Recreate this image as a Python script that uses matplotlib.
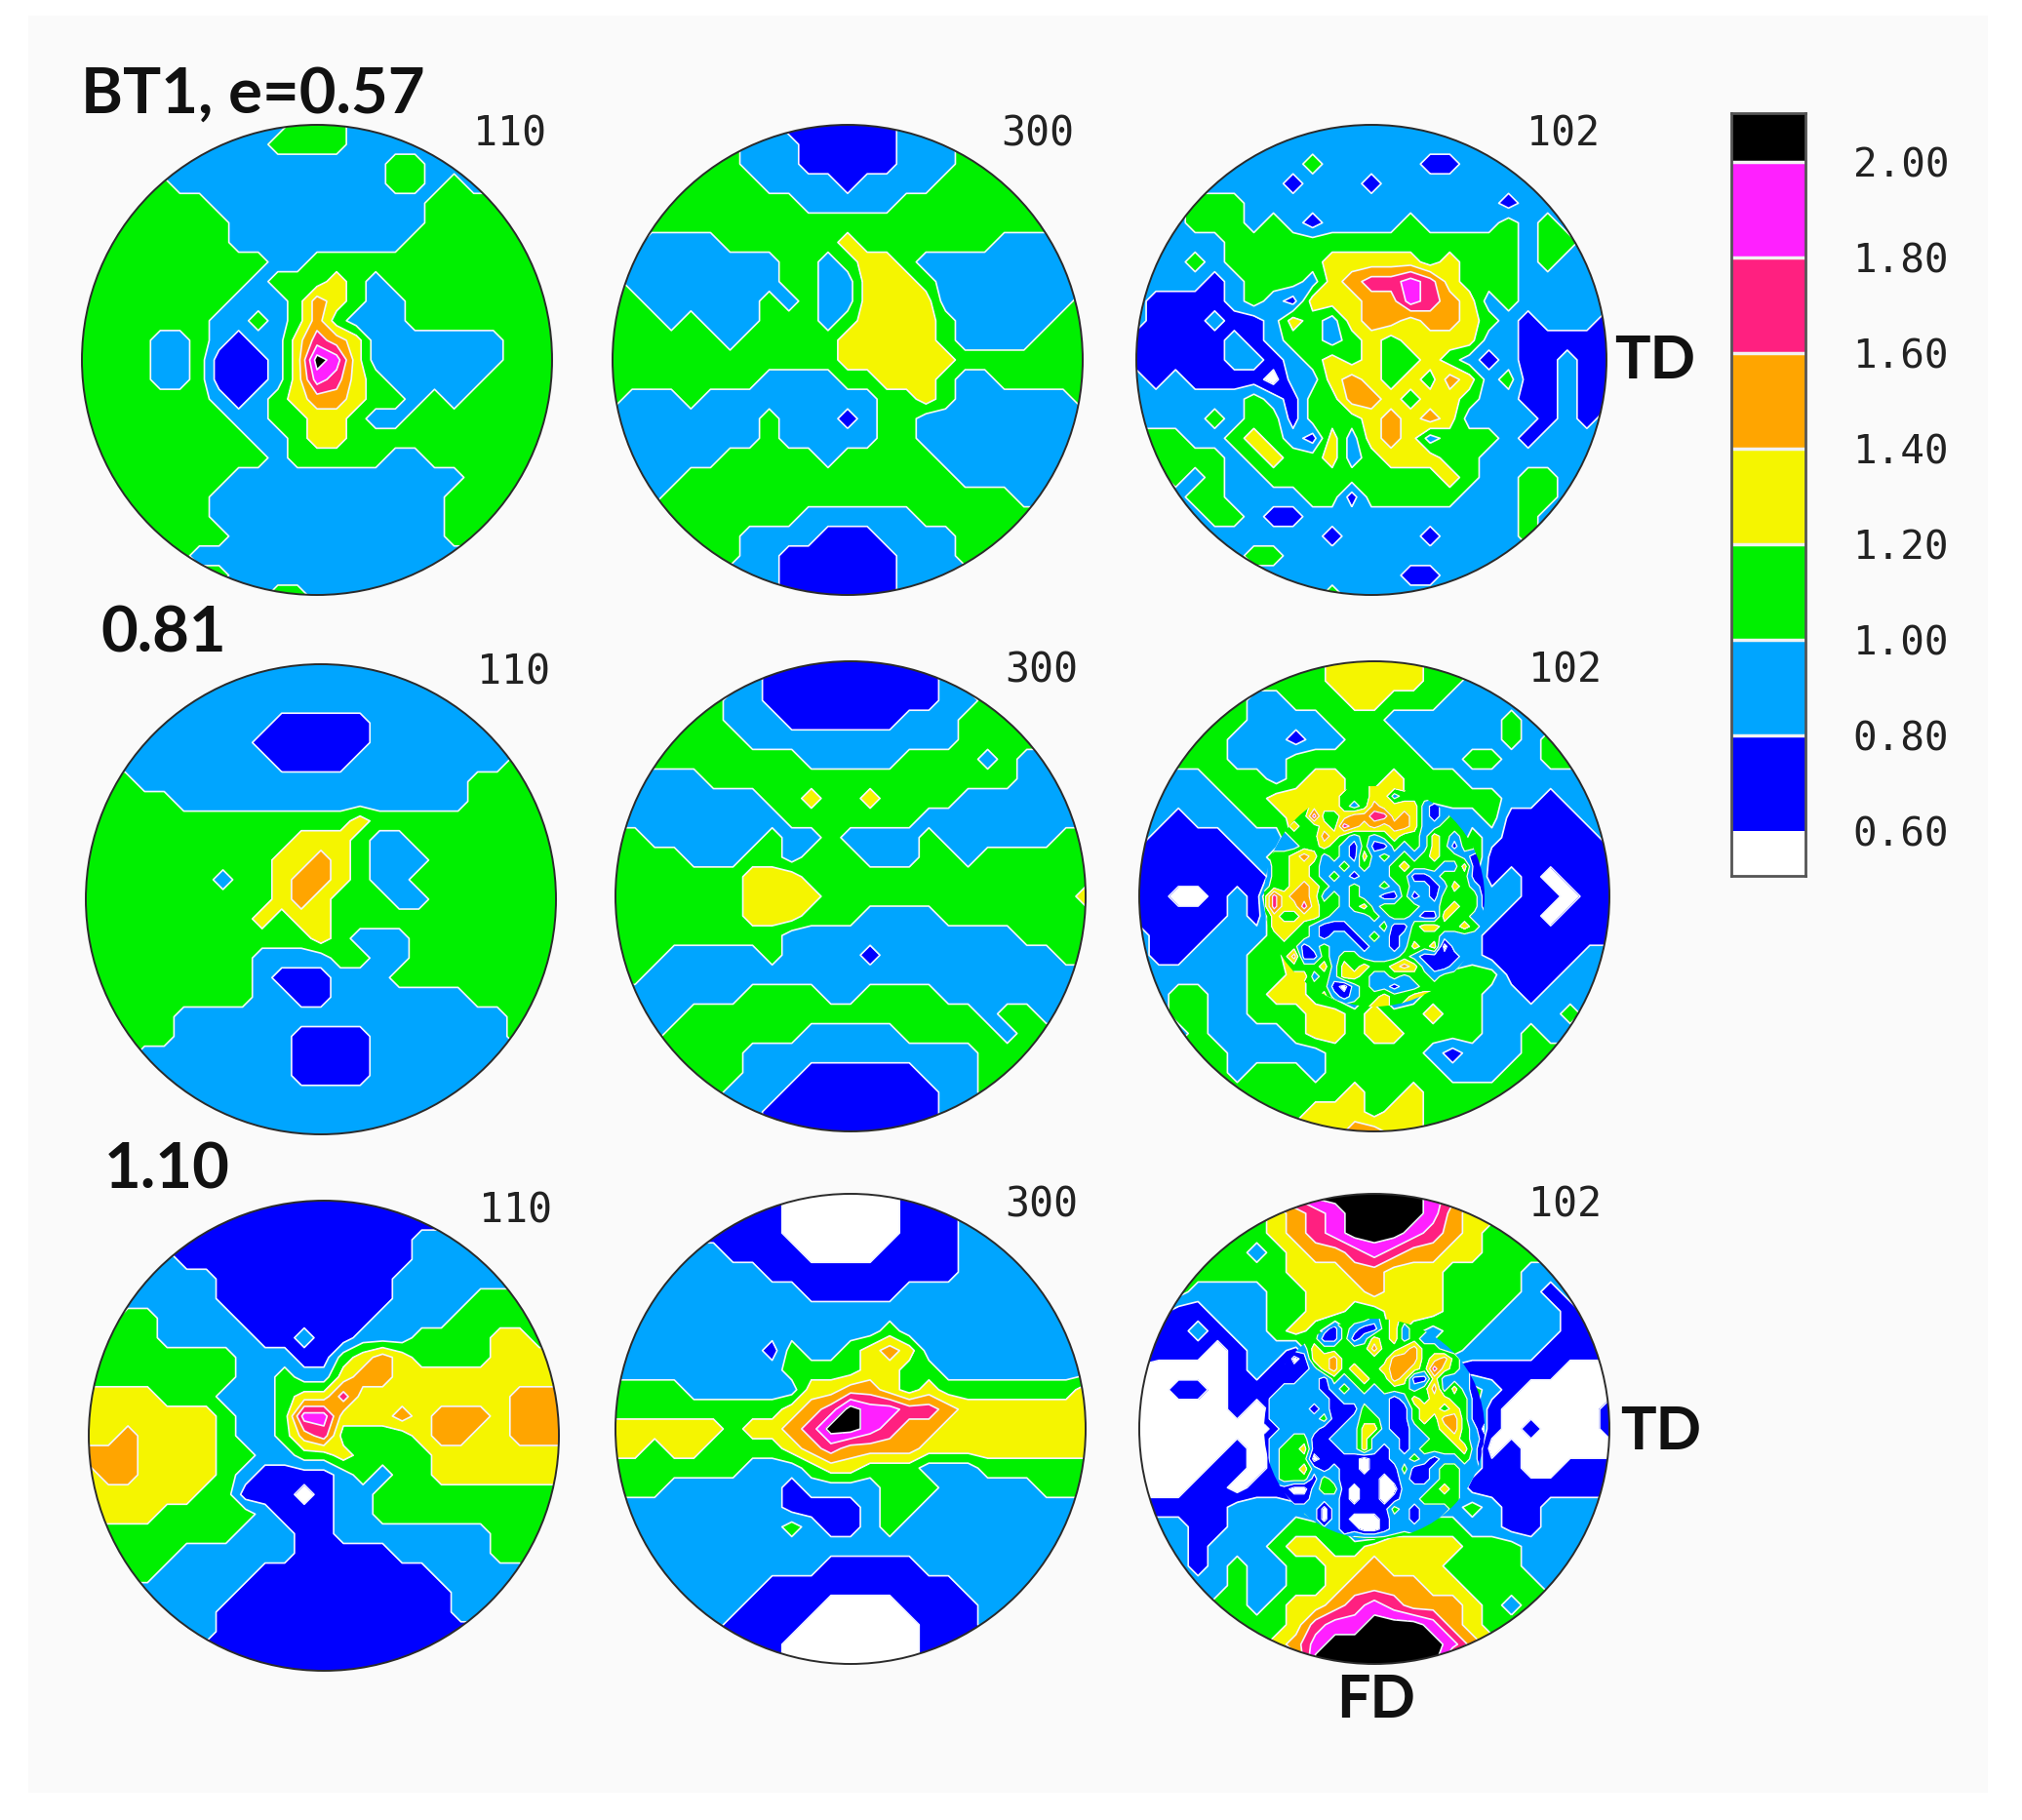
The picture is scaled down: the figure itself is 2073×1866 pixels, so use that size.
import matplotlib
matplotlib.use("Agg")
import matplotlib.pyplot as plt
from matplotlib.patches import Circle, Rectangle
import numpy as np

W, H = 2073, 1866

# pole figure intensities, one digit per grid cell
# digit d means an intensity of 0.5 + 0.2 * d, top row first
pf_110_057 = [
    "2222222222233322222222222", "2222222222333322222222222", "2222222222222222332222222",
    "3333322222222222332322222", "3333333222222222223333333", "3333333322222222223333333",
    "3333333322222222233333333", "3333333333223333333333333", "3333333332333432333333333",
    "3333333322235432233333333", "3333333223235322233333333", "3333223212246542222222333",
    "3333223111248742222222333", "3333223111247643222223333", "3333333212345543323233333",
    "3333333322334432233333333", "3333333332234433333333333", "3333333333233333223333333",
    "3333333322222222222233333", "3333333222222222222333333", "3333333222222222222333333",
    "3333333322222222222333333", "3333332222222222222222222", "3333333322222222222222222",
    "2222222222332222222222222",
]
pf_300_057 = [
    "2222222221111112222222222", "3333333222111112223333333", "3333333222111112223333333",
    "3333333322221222233333333", "3333333333222223333333333", "3333333333333333333333333",
    "3322223333334333333322222", "3222222223323443222222222", "3222222223322444322222222",
    "3322222232322444422222223", "3332322233323444432222233", "3333332333334444432222333",
    "3333333333334444443333333", "3333333322223344432233333", "3222322222222233432222223",
    "2222222232221233222222222", "2222222232222233222222222", "2222223333323333322222222",
    "2222333333333333332222222", "2223333333333333333332222", "3333333333222222333333333",
    "3333333222211122223333333", "3333333221111112223333333", "2222222221111112222222222",
    "2222222221111112222222222",
]
pf_102_057 = [
    "2222222222222222222222222", "2222222222222222222222222", "2222222223222221122222222",
    "2222222212221222222222222", "2223332222222222222122222", "2223332321222232222323222",
    "2222233333333333333323322", "2223233333444443433323222", "2222123332456676433322222",
    "2111123214445576542322222", "2111211243245545543212221", "1111121233234344442211111",
    "1111122123434334321211211", "2121111022454343542311211", "2222223213355434432211211",
    "2222323313334545422221212", "3332234321424542333212222", "2333323433423444332222222",
    "2232322333333333432233222", "2223322223313333322233222", "2222332112222222222232222",
    "2222222222122221222232222", "2222223322222222222222222", "2222222222222211222222222",
    "2222222222322222222222222",
]
pf_110_081 = [
    "2222222222222222222222222", "2222222222222222222222222", "2222222222222222222222222",
    "2222222222111112222222222", "2222222221111112222222222", "2222222222111122222222333",
    "3332222222222222222233333", "3333322222222222222233333", "3333333333333343333333333",
    "3333333333344432233333333", "3333333333445432223333333", "3333333233455432233333333",
    "3333333333454333223333333", "3333333334344333333333333", "3333333333334322233333333",
    "3333333332222332233333333", "3333333332111222333333333", "3333333332211222222233333",
    "3333322222222222222222333", "3333322222211112222222333", "3332222222211112222222222",
    "2222222222211112222222222", "2222222222222222222222222", "2222222222222222222222222",
    "2222222222222222222222222",
]
pf_300_081 = [
    "2222222211111111122222222", "3333333211111111123333333", "3333332211111111122333333",
    "3333332221111112223333333", "3333333222222222223333333", "3333333333222223333232222",
    "2222233333333333333332222", "2222222233433433332222222", "2222222223333333222222222",
    "3322222232232222322222233", "3333222332333222332333333", "3333333444333333333333333",
    "3333333444433333333333334", "3333333444333222233333333", "3333333332222222222223333",
    "3332222232222122222222233", "3322222222222222222222222", "2222222333322333322222222",
    "2222333333333333333233222", "2223333333222223333323333", "3333333222222222222333333",
    "3333333222111111222333333", "3333332221111111122333333", "2222222211111111122222222",
    "2222222211111111122222222",
]
pf_102_081 = [
    "3333333333444443333333333", "3333333333444443322222222", "3333332233344333222222222",
    "3333332222333222222322222", "3333322212233322222323222", "3333322233333332233223322",
    "2222333234433433322222222", "2222233444434433333221222", "2212223345436541223111122",
    "2111122245311324132111112", "1111112345223234341111111", "1111111243212311231210111",
    "1100121653232121322211011", "1111121443212314322110111", "2111222342112133321111111",
    "2112223351324341121111122", "2222223343242223333111222", "2233223443213123332212222",
    "2233223334434334332222322", "2223222234434433332232222", "3333322222333332122233333",
    "3333323332333333222333333", "3333333333343343333333333", "3333333334443443333333333",
    "3333333344455443333333333",
]
pf_110_110 = [
    "1111111111111111111111111", "1111111111111111111111111", "1111111111111111122222222",
    "2222211111111111122222222", "2222222111111111222222222", "2222222111111111222233333",
    "2233222211111112222333333", "2333222221121122233334433", "3333333322211345433334444",
    "3333333322322455444444444", "4444333222344644444444555", "4444444322377444545554555",
    "4454444322356333345544555", "5554444332233433334444444", "4554444321111232334444444",
    "4444443311101223333333333", "4444333332111223333333333", "3333333322211222222223333",
    "3333322222211111222223333", "3333222221111111112222233", "2222222211111111111222222",
    "2222222111111111111222222", "2222222111111111111111111", "1111111111111111111111111",
    "1111111111111111111111111",
]
pf_300_110 = [
    "1111111110000001111111111", "1111111110000001112222222", "1111111110000001112222222",
    "2222221111000011112222222", "2222222211111111112222222", "2222222222111112222222222",
    "2222222222222222222222222", "2222222222222232222222222", "2222222213223454222222222",
    "2222222223333443322222222", "3333222222445543433333334", "3333333334568776654444444",
    "4444443445688765544444444", "4434433334565555444444444", "3333333222344333222333333",
    "3332222221222233322222333", "2222222221111233222222222", "2222222223211232222222222",
    "2222222222222222222222222", "2222222222211111222222222", "2222222211111111112222222",
    "2222222111100001111222222", "2222221111000000111222222", "1111111110000000111111111",
    "1111111110000000111111111",
]
pf_102_110 = [
    "4444444678888887644444444", "3333333456788887544333333", "3333333456788876543333333",
    "3333332345567655443333333", "3333333344455444333322222", "3332222334445444333321222",
    "3211222334433444333222122", "2112122343132432332222112", "2111012214535353322221111",
    "0000012101523254111111000", "0011011112332434432100000", "0000010122212124431000001",
    "0000000121224212531010001", "0000010141124112430100000", "0000110131312121321100111",
    "0001101103310024311111111", "1111122221210012232112222", "2221122233310333322112222",
    "2221222344334444433322222", "2221232233445444333322222", "2222232233455554433332222",
    "2222332344567655543233222", "2223333346778887543333333", "3333333457888888754333333",
    "4444444448888888444444444",
]

# finer readings of the noisy middle of two 102 figures
center_102_081 = [
    "33443344433444433333332", "34443344333442333334333", "33333444323544442123333",
    "33333633455664542123322", "22343343654545542233322", "22233354323234332432322",
    "22223343213113232431332", "23345423214232323433211", "13344322323223433322411",
    "13344323212223311233311", "23345432232232322124321", "36455423232211312133331",
    "36446433234233332234331", "24334432222323321143322", "24443211122231134433432",
    "23433212212321233322222", "23331232221221243402222", "23351132332222321111211",
    "22333342434334542112323", "33344232443223233233333", "34443331023221223333233",
    "33433342123343344433333", "33333344333443444443333",
]
center_102_110 = [
    "33433443333234333234433", "33433321321134233233333", "33333311312434232222222",
    "22222433333533453322222", "11201445333335553453211", "11111245343345543643211",
    "11112213234335411422211", "11222212323233323524211", "12222221222221243443311",
    "12222121113221134434311", "12222231123321134355311", "01222211224421123345320",
    "12233112224222122334321", "12334111224212123333420", "12333011110112232122320",
    "12334212110111311233221", "12333132111101211233221", "11100233101100222343211",
    "22211222101101223333211", "22222202111113212223222", "22223202100012212233322",
    "23333322110012222233222", "23433322233333433333333",
]

levels = [0.6, 0.8, 1.0, 1.2, 1.4, 1.6, 1.8, 2.0]
colors = ["#ffffff", "#0000ff", "#00a5ff", "#00f000", "#f5f500", "#ffa500", "#ff2080", "#ff20ff", "#000000"]
reflections = ["110", "300", "102"]
strains = ["BT1, e=0.57", "0.81", "1.10"]

panels = [
    [pf_110_057, pf_300_057, pf_102_057],
    [pf_110_081, pf_300_081, pf_102_081],
    [pf_110_110, pf_300_110, pf_102_110],
]
center_panels = {(1, 2): center_102_081, (2, 2): center_102_110}
center_half = 113 / 241

# circle centres and radius in picture pixels
centers = [
    [(325, 369), (869, 369), (1406, 369)],
    [(329, 922), (872, 919), (1409, 919)],
    [(332, 1472), (872, 1465), (1409, 1465)],
]
radius = 241
label_pos = [
    [(522, 138), (1064, 138), (1602, 138)],
    [(526, 690), (1068, 688), (1605, 688)],
    [(529, 1242), (1068, 1235), (1605, 1235)],
]
strain_pos = [(83, 97), (103, 650), (107, 1200)]


def add_px_axes(x, y, w, h):
    return fig.add_axes([x / W, 1 - (y + h) / H, w / W, h / H])


def to_values(rows):
    digits = np.array([[int(c) for c in row] for row in rows], dtype=float)
    return 0.5 + 0.2 * digits[::-1]


def draw_field(ax, rows, half, clip, base_z, line_w):
    z = to_values(rows)
    x = np.linspace(-half, half, z.shape[1])
    y = np.linspace(-half, half, z.shape[0])
    filled = ax.contourf(x, y, z, levels=[-1] + levels + [9], colors=colors, zorder=base_z)
    filled.set_clip_path(clip)
    lines = ax.contour(x, y, z, levels=levels, colors="#f4f6ff", linewidths=line_w, zorder=base_z + 0.5)
    lines.set_clip_path(clip)


fig = plt.figure(figsize=(W / 100, H / 100), dpi=100, facecolor="white")

# pale panel behind everything
bg = fig.add_axes([0, 0, 1, 1])
bg.set_xlim(0, W)
bg.set_ylim(H, 0)
bg.axis("off")
bg.add_patch(Rectangle((29, 16), 2009, 1822, facecolor="#fafafa", edgecolor="none"))

for row in range(3):
    for col in range(3):
        cx, cy = centers[row][col]
        pad = radius + 4
        ax = add_px_axes(cx - pad, cy - pad, 2 * pad, 2 * pad)
        lim = pad / radius
        ax.set_xlim(-lim, lim)
        ax.set_ylim(-lim, lim)
        ax.axis("off")
        ax.patch.set_alpha(0)

        clip = Circle((0, 0), 1, transform=ax.transData)
        draw_field(ax, panels[row][col], 1, clip, 1, 1.2)
        if (row, col) in center_panels:
            inner = Circle((0, 0), center_half, transform=ax.transData)
            draw_field(ax, center_panels[(row, col)], center_half, inner, 3, 0.9)
        ax.add_patch(Circle((0, 0), 1, fill=False, edgecolor="#2b2b2b", linewidth=1.4, zorder=5))

        lx, ly = label_pos[row][col]
        bg.text(lx, ly, reflections[col], family="DejaVu Sans Mono", fontsize=30,
                color="#222222", ha="center", va="center")

for text, (tx, ty) in zip(strains, strain_pos):
    bg.text(tx, ty, text, family="Lato", weight="bold", fontsize=47, color="#111111",
            ha="left", va="center")

bg.text(1697, 370, "TD", family="Lato", weight="bold", fontsize=44, color="#111111", ha="center", va="center")
bg.text(1703, 1468, "TD", family="Lato", weight="bold", fontsize=44, color="#111111", ha="center", va="center")
bg.text(1411, 1743, "FD", family="Lato", weight="bold", fontsize=44, color="#111111", ha="center", va="center")

# colour key
cax = add_px_axes(1775, 116, 76, 782)
edges = [0.506] + levels + [2.102]
cax.bar(0, np.diff(edges), bottom=edges[:-1], width=1, color=colors, align="center")
cax.hlines(levels[1:], -0.5, 0.5, colors="#f2f2f2", linewidth=2.5)
cax.set_xlim(-0.5, 0.5)
cax.set_ylim(edges[0], edges[-1])
cax.set_xticks([])
cax.yaxis.tick_right()
cax.set_yticks(levels)
cax.set_yticklabels(["%.2f" % v for v in levels], family="DejaVu Sans Mono", fontsize=29.5, color="#222222")
cax.tick_params(axis="y", length=0, pad=35)
for s in cax.spines.values():
    s.set_color("#555555")
    s.set_linewidth(2)

fig.savefig("out.png", dpi=100, facecolor="white")
